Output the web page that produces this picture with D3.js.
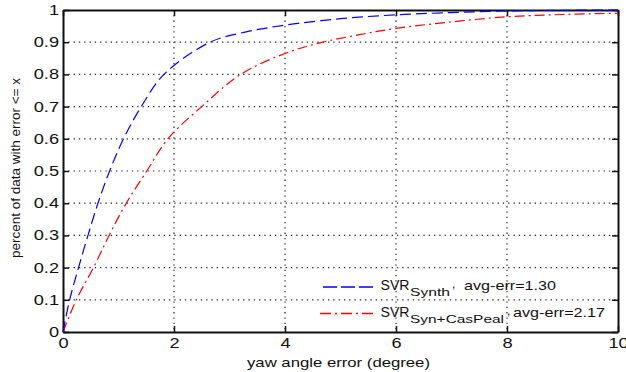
<!DOCTYPE html>
<html>
<head>
<meta charset="utf-8">
<script src="https://d3js.org/d3.v7.min.js"></script>
<style>
  body { margin: 0; background: #fff; }
  svg { display: block; }
  text { font-family: "Liberation Sans", Arial, sans-serif; fill: #111; }
</style>
</head>
<body>
<div id="chart"></div>
<script>
// data
var synthX = [0, 0.12, 0.28, 0.45, 0.63, 0.84, 1.09, 1.41, 1.82, 2.65, 3.3, 4.0, 5.0, 6.0, 7.0, 8.0, 9.0, 10.0];
var synthY = [0, 0.10, 0.20, 0.30, 0.40, 0.50, 0.60, 0.70, 0.80, 0.90, 0.932, 0.953, 0.973, 0.985, 0.992, 0.997, 0.999, 1.0];
var casX = [0, 0.24, 0.55, 0.83, 1.14, 1.51, 1.89, 2.5, 3.2, 4.0, 4.63, 5.3, 6.0, 7.0, 8.0, 9.0, 10.0];
var casY = [0, 0.10, 0.20, 0.30, 0.40, 0.50, 0.60, 0.70, 0.80, 0.865, 0.898, 0.922, 0.943, 0.963, 0.979, 0.986, 0.99];
var xTicks = [0, 2, 4, 6, 8, 10];
var yTicks = [0, 0.1, 0.2, 0.3, 0.4, 0.5, 0.6, 0.7, 0.8, 0.9, 1];
var seriesNames = ["Synth", "Syn+CasPeal"];
var seriesErr = ["avg-err=1.30", "avg-err=2.17"];

var W = 626, H = 372;
var margin = {top: 10, right: 8, bottom: 40, left: 63};
var width = W - margin.left - margin.right,
    height = H - margin.top - margin.bottom;

// text in the picture is drawn wider than the font
function stretch(sel, k) {
  sel.each(function() {
    var n = this.getComputedTextLength();
    this.setAttribute("textLength", n * k);
    this.setAttribute("lengthAdjust", "spacingAndGlyphs");
  });
}
function fitTo(sel, len) {
  sel.attr("textLength", len).attr("lengthAdjust", "spacingAndGlyphs");
}

var root = d3.select("#chart").append("svg")
  .attr("width", W)
  .attr("height", H);
var svg = root.append("g")
  .attr("transform", "translate(" + margin.left + "," + margin.top + ")");

var x = d3.scaleLinear().domain([0, 10]).range([0, width]);
var y = d3.scaleLinear().domain([0, 1]).range([height, 0]);

// dotted grid
svg.append("g").selectAll("line")
  .data(xTicks.slice(1, -1))
  .enter().append("line")
  .attr("x1", function(d) { return x(d); }).attr("x2", function(d) { return x(d); })
  .attr("y1", 0).attr("y2", height)
  .attr("stroke", "#222").attr("stroke-width", 1.2).attr("stroke-dasharray", "1.3,4");
svg.append("g").selectAll("line")
  .data(yTicks.slice(1, -1))
  .enter().append("line")
  .attr("y1", function(d) { return y(d); }).attr("y2", function(d) { return y(d); })
  .attr("x1", 0).attr("x2", width)
  .attr("stroke", "#222").attr("stroke-width", 1.2).attr("stroke-dasharray", "1.3,4");

// axes with inward ticks, box on all sides
svg.append("g")
  .attr("transform", "translate(0," + height + ")")
  .call(d3.axisBottom(x).tickValues(xTicks).tickSizeInner(-6).tickSizeOuter(0).tickPadding(6))
  .call(function(g) { g.selectAll("text").attr("font-size", 14).style("font-family", "Liberation Sans, Arial").call(stretch, 1.3); });
svg.append("g")
  .call(d3.axisLeft(y).tickValues(yTicks).tickFormat(function(d) { return String(+d.toFixed(1)); })
    .tickSizeInner(-6).tickSizeOuter(0).tickPadding(4))
  .call(function(g) { g.selectAll("text").attr("font-size", 14).style("font-family", "Liberation Sans, Arial").call(stretch, 1.3); });
svg.append("g")
  .call(d3.axisTop(x).tickValues(xTicks).tickSizeInner(-6).tickSizeOuter(0).tickFormat(""));
svg.append("g")
  .attr("transform", "translate(" + width + ",0)")
  .call(d3.axisRight(y).tickValues(yTicks).tickSizeInner(-6).tickSizeOuter(0).tickFormat(""));
svg.selectAll(".domain").attr("stroke", "#111").attr("stroke-width", 2);
svg.selectAll(".tick line").attr("stroke", "#111").attr("stroke-width", 1.5);

// curves
var line = d3.line()
  .x(function(d) { return x(d[0]); })
  .y(function(d) { return y(d[1]); })
  .curve(d3.curveCatmullRom.alpha(0.5));

svg.append("path")
  .datum(d3.zip(casX, casY))
  .attr("d", line)
  .attr("fill", "none").attr("stroke", "#ff0000").attr("stroke-width", 1.2)
  .attr("stroke-dasharray", "10,4,2,4");

svg.append("path")
  .datum(d3.zip(synthX, synthY))
  .attr("d", line)
  .attr("fill", "none").attr("stroke", "#0000ff").attr("stroke-width", 1.2)
  .attr("stroke-dasharray", "11,5");

// axis labels
root.append("text")
  .attr("x", 338.5)
  .attr("y", 366.5)
  .attr("font-size", 13)
  .style("text-anchor", "middle")
  .call(fitTo, 183)
  .text("yaw angle error (degree)");
root.append("text")
  .attr("transform", "rotate(-90)")
  .attr("x", -168)
  .attr("y", 19.5)
  .attr("font-size", 13)
  .style("text-anchor", "middle")
  .call(fitTo, 180)
  .text("percent of data with error <= x");

// legend
var legendRows = [
  {color: "#0000ff", dash: "14,4", y: 287, x1: 323, subLen: 40, commaX: 452, errX: 464},
  {color: "#ff0000", dash: "11,4,2,4", y: 313.5, x1: 320, subLen: 94, commaX: 507, errX: 513}
];
legendRows.forEach(function(d, i) {
  root.append("line")
    .attr("x1", d.x1).attr("x2", 373).attr("y1", d.y).attr("y2", d.y)
    .style("stroke", d.color).attr("stroke-width", 1.3).attr("stroke-dasharray", d.dash);
  root.append("text").attr("x", 380.5).attr("y", d.y + 3).attr("font-size", 15)
    .call(fitTo, 29).text("SVR");
  root.append("text").attr("x", 410).attr("y", d.y + 9).attr("font-size", 11.5)
    .call(fitTo, d.subLen).text(seriesNames[i]);
  root.append("text").attr("x", d.commaX).attr("y", d.y + 1).attr("font-size", 12)
    .text(",");
  root.append("text").attr("x", d.errX).attr("y", d.y + 3).attr("font-size", 13)
    .call(fitTo, 92).text(seriesErr[i]);
});
</script>
</body>
</html>
